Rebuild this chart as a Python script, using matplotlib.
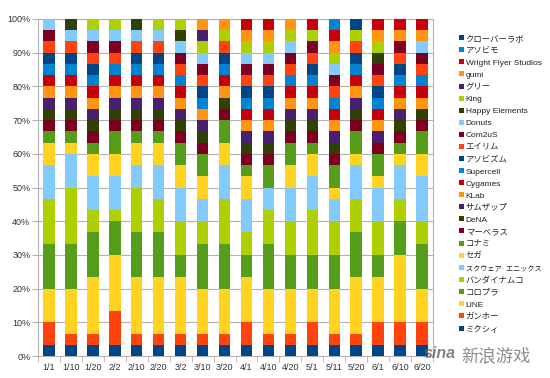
import matplotlib
matplotlib.use("Agg")
import matplotlib.pyplot as plt
from matplotlib.patches import Patch
import numpy as np

plt.rcParams['font.family'] = ['Liberation Sans', 'Noto Sans CJK JP', 'DejaVu Sans']

dates = ["1/1", "1/10", "1/20", "2/2", "2/10", "2/20", "3/2", "3/10", "3/20",
         "4/1", "4/10", "4/20", "5/1", "5/11", "5/20", "6/1", "6/10", "6/20"]

# Number of titles (out of 30) per company, stacked bottom -> top
mixi        = [1, 1, 1, 1, 1, 1, 1, 1, 1, 1, 1, 1, 1, 1, 1, 1, 1, 1]
gungho      = [2, 1, 1, 3, 1, 1, 1, 1, 1, 2, 1, 1, 2, 1, 1, 2, 2, 2]
line_co     = [3, 4, 5, 5, 5, 5, 5, 4, 4, 4, 4, 4, 3, 4, 5, 4, 6, 3]
colopl      = [4, 4, 4, 3, 4, 4, 2, 4, 4, 2, 4, 3, 3, 3, 4, 2, 3, 4]
bandai      = [4, 5, 2, 1, 4, 3, 3, 2, 4, 2, 3, 3, 4, 3, 3, 3, 2, 2]
squareenix  = [3, 3, 3, 3, 2, 3, 3, 2, 3, 3, 2, 3, 3, 2, 3, 3, 3, 4]
sega        = [2, 1, 2, 2, 2, 2, 2, 2, 2, 2, 0, 2, 2, 1, 1, 1, 1, 2]
konami      = [1, 1, 1, 2, 1, 1, 2, 2, 2, 1, 2, 2, 1, 2, 2, 2, 1, 2]
marvelous   = [1, 1, 1, 1, 1, 1, 1, 1, 1, 1, 1, 1, 1, 1, 1, 1, 1, 1]
dena        = [1, 1, 1, 1, 1, 1, 1, 1, 1, 1, 1, 1, 1, 1, 1, 0, 1, 1]
sumzap      = [1, 1, 1, 1, 1, 1, 1, 1, 0, 1, 1, 1, 1, 1, 1, 1, 1, 0]
klab        = [1, 1, 1, 1, 1, 1, 1, 1, 1, 1, 1, 1, 1, 1, 1, 1, 1, 1]
cygames     = [1, 1, 1, 1, 1, 1, 1, 0, 1, 1, 1, 1, 1, 1, 1, 1, 1, 1]
supercell   = [1, 1, 1, 1, 1, 1, 1, 1, 1, 1, 1, 1, 1, 1, 1, 1, 1, 1]
asobism     = [1, 1, 1, 0, 1, 1, 0, 1, 1, 1, 1, 0, 1, 0, 1, 1, 1, 0]
ailim       = [1, 1, 1, 1, 1, 1, 1, 1, 1, 1, 1, 1, 1, 1, 1, 1, 1, 1]
com2us      = [1, 0, 1, 1, 0, 0, 1, 1, 0, 1, 1, 1, 1, 1, 0, 1, 1, 1]
donuts      = [1, 1, 1, 1, 1, 1, 1, 1, 0, 1, 1, 1, 0, 1, 0, 0, 0, 1]
happy       = [0, 1, 0, 0, 1, 0, 1, 0, 0, 0, 0, 0, 0, 0, 0, 1, 0, 0]
king        = [0, 0, 1, 1, 0, 1, 1, 1, 1, 1, 1, 1, 1, 1, 1, 1, 0, 0]
gree        = [0, 0, 0, 0, 0, 0, 0, 1, 0, 0, 0, 0, 0, 0, 0, 0, 0, 0]
gumi        = [0, 0, 0, 0, 0, 0, 0, 1, 1, 1, 1, 1, 0, 1, 0, 1, 1, 1]
wrightflyer = [0, 0, 0, 0, 0, 0, 0, 0, 0, 1, 1, 0, 1, 1, 0, 1, 1, 1]
asobimo     = [0, 0, 0, 0, 0, 0, 0, 0, 0, 0, 0, 0, 0, 1, 0, 0, 0, 0]
cloverlab   = [0, 0, 0, 0, 0, 0, 0, 0, 0, 0, 0, 0, 0, 0, 1, 0, 0, 0]

names = ["ミクシィ", "ガンホー", "LINE", "コロプラ", "バンダイナムコ", "スクウェア· エニックス",
         "セガ", "コナミ", "マーベラス", "DeNA", "サムザップ", "KLab", "Cygames", "Supercell",
         "アソビズム", "エイリム", "Com2uS", "Donuts", "Happy Elements", "King", "グリー",
         "gumi", "Wright Flyer Studios", "アソビモ", "クローバーラボ"]
series = [mixi, gungho, line_co, colopl, bandai, squareenix, sega, konami, marvelous,
          dena, sumzap, klab, cygames, supercell, asobism, ailim, com2us, donuts, happy,
          king, gree, gumi, wrightflyer, asobimo, cloverlab]

NAVY, ORED, YEL, GRN, MAR, LBL, DGR, YGR, PUR, ORG, RED, BLU = (
    '#004586', '#ff420e', '#ffd320', '#579d1c', '#7e0021', '#83caff',
    '#314004', '#aecf00', '#4b1f6f', '#ff950e', '#c5000b', '#0084d1')
colors = [NAVY, ORED, YEL, GRN, YGR, LBL, YEL, GRN, MAR, DGR, PUR, ORG, RED, BLU,
          NAVY, ORED, MAR, LBL, DGR, YGR, PUR, ORG, RED, BLU, NAVY]

fig = plt.figure(figsize=(5.5, 3.78), dpi=100)
ax = fig.add_axes([38/550, 22/378, 395/550, 337/378])

x = np.arange(len(dates))
totals = np.sum(np.array(series), axis=0)
bottom = np.zeros(len(dates))
for vals, c in zip(series, colors):
    pct = np.array(vals) / totals * 100
    ax.bar(x, pct, 0.52, bottom=bottom, color=c, linewidth=0, zorder=3)
    bottom += pct

ax.set_xlim(-0.5, len(dates) - 0.5)
ax.set_ylim(0, 100)
ax.set_yticks(np.arange(0, 101, 10))
ax.set_yticklabels([f"{v}%" for v in range(0, 101, 10)])
ax.set_xticks(x)
ax.set_xticklabels(dates)
ax.set_xticks(np.arange(-0.5, len(dates), 1), minor=True)
ax.tick_params(axis='x', which='major', length=0, pad=5, labelsize=6.5, colors='#333333')
ax.tick_params(axis='x', which='minor', length=4, color='#b3b3b3', direction='out')
ax.tick_params(axis='y', length=4, color='#b3b3b3', pad=1.5, labelsize=6.5, labelcolor='#333333')
ax.grid(axis='y', color='#b3b3b3', linewidth=0.8, zorder=0)
for s in ax.spines.values():
    s.set_color('#b3b3b3')
    s.set_linewidth(0.8)

handles = [Patch(facecolor=c, edgecolor='none') for c in colors]
leg = fig.legend(handles[::-1], names[::-1], loc='upper left',
                 bbox_to_anchor=(459/550, 1 - 35/378), frameon=False,
                 fontsize=6, handlelength=0.55, handleheight=0.55,
                 handletextpad=0.25, labelspacing=0.55, borderaxespad=0, borderpad=0)
for t in leg.get_texts():
    t.set_color('#222222')
    if len(t.get_text()) > 10 and not t.get_text().isascii():
        t.set_fontsize(5.1)

# watermark
fig.text(424/550, 1 - 353/378, "sina", fontsize=11.5, fontweight='bold', style='italic',
         color='#6e6e6e', va='center', ha='left', alpha=0.85)
fig.text(461/550, 1 - 356/378, "新浪游戏", fontsize=12.5, style='italic',
         color='#7a7a7a', va='center', ha='left', alpha=0.85,
         family=['Noto Sans CJK SC'])

fig.savefig("out.png", dpi=100)
